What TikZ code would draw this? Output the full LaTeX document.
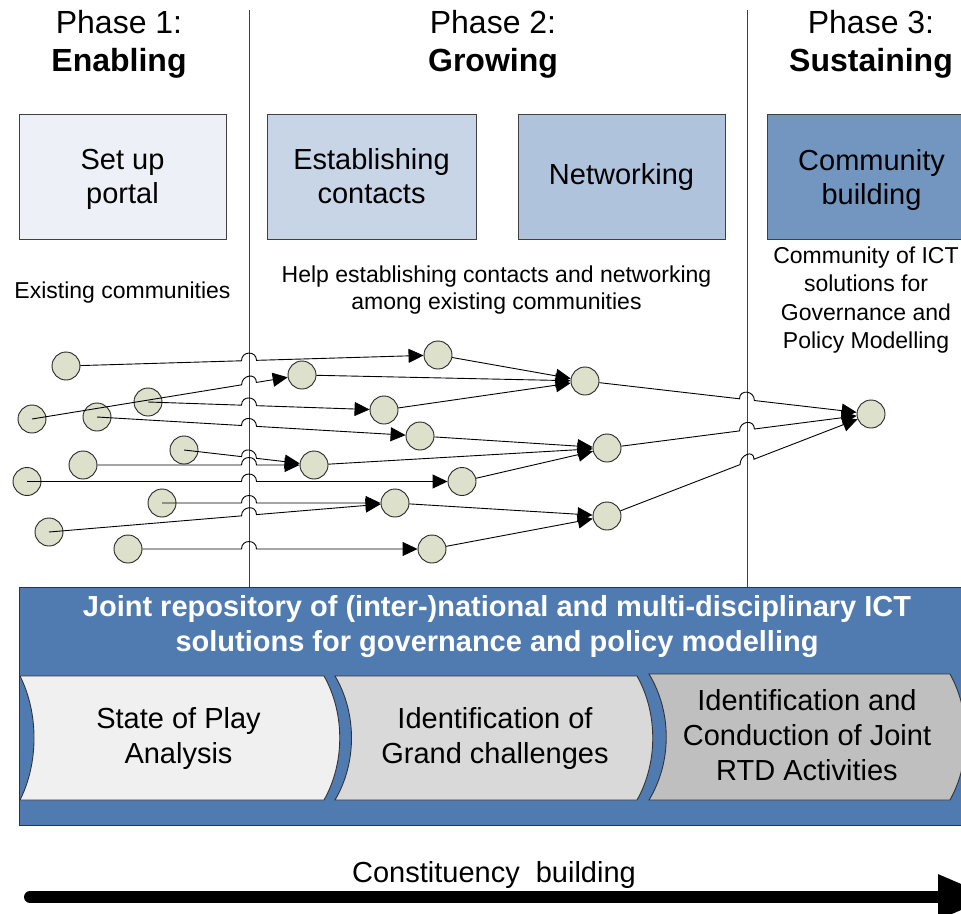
\documentclass[tikz,border=0pt]{standalone}
\usepackage{fontspec}
\setmainfont{Liberation Sans}
\usetikzlibrary{arrows.meta,calc}
\definecolor{setupfill}{RGB}{237,241,247}
\definecolor{estfill}{RGB}{200,213,230}
\definecolor{netfill}{RGB}{176,195,220}
\definecolor{comfill}{RGB}{115,150,193}
\definecolor{repofill}{RGB}{79,123,176}
\definecolor{chevA}{RGB}{240,240,240}
\definecolor{chevB}{RGB}{217,217,217}
\definecolor{chevC}{RGB}{191,191,191}
\definecolor{dotfill}{RGB}{221,224,203}
\definecolor{linegray}{RGB}{64,64,64}
% hop edge: #1 start spec, #2 source node, #3 target node, #4 x of vertical line
\newcommand{\hopedge}[4]{%
  \coordinate (hp) at (intersection cs: first line={(#2.center)--(#3.center)}, second line={(#4,0)--(#4,600)});
  \draw[edge] (#1) -- ($(hp)!7.5pt!(#2.center)$) .. controls +(0,-10) and +(0,-10) .. ($(hp)!7.5pt!(#3.center)$) -- (#3);
}
\begin{document}
\begin{tikzpicture}[x=1pt,y=-1pt,
  phasehead/.style={align=center, font=\fontsize{32}{38.4}\selectfont, inner sep=0pt},
  stagebox/.style={draw=linegray, line width=1pt, minimum width=207pt, minimum height=125pt, inner sep=0pt, align=center, font=\fontsize{29}{34}\selectfont},
  note/.style={align=center, font=\fontsize{23}{27}\selectfont, inner sep=0pt},
  vline/.style={draw=linegray, line width=1pt},
  dot/.style={circle, draw=black!85, fill=dotfill, minimum size=28pt, inner sep=0pt, line width=0.9pt},
  edge/.style={draw=black, line width=0.9pt, -{Triangle[length=15pt,width=14pt]}},
  chev/.style={draw=black!80, line width=0.9pt},
  chevtext/.style={align=center, font=\fontsize{29}{35}\selectfont, inner sep=0pt},
]
\useasboundingbox (0,0) rectangle (961,913);
\clip (0,0) rectangle (961,913);

% phase separators
\draw[vline] (249,10) -- (249,587);
\draw[vline] (747,10) -- (747,587);

% headers
\node[phasehead] (ph1) at (119,44.2) {Phase 1:\\\textbf{Enabling}};
\node[phasehead] (ph2) at (493,44.2) {Phase 2:\\\textbf{Growing}};
\node[phasehead] (ph3) at (871,44.2) {Phase 3:\\\textbf{Sustaining}};

% stage boxes
\node[stagebox, fill=setupfill] (setup) at (122.5,176.5) {Set up\\\smash{portal}};
\node[stagebox, fill=estfill, minimum width=209pt] (est) at (371.5,176.5) {Establishing\\contacts};
\node[stagebox, fill=netfill] (net) at (621.5,176.5) {Networking};
\node[stagebox, fill=comfill, minimum width=209pt] (com) at (871.5,176.5) {Community\\\smash{building}};

% notes
\node[note, anchor=base] (n1) at (122.5,298.3) {Existing communities};
\node[note] (n2) at (496.5,290.5) {Help establishing contacts and networking\\among existing communities};
\node[note, font=\fontsize{23}{28.3}\selectfont] (n3) at (866,300) {Community of ICT\\solutions for\\Governance and\\Policy Modelling};

% network nodes
\node[dot] (A1) at (66,366) {};
\node[dot] (A2) at (32,419) {};
\node[dot] (A3) at (148,402) {};
\node[dot] (A4) at (97,417) {};
\node[dot] (A5) at (184,450) {};
\node[dot] (A6) at (83,465) {};
\node[dot] (A7) at (27,481.5) {};
\node[dot] (A8) at (162,503) {};
\node[dot] (A9) at (49,532) {};
\node[dot] (A10) at (128,549) {};
\node[dot] (B1) at (438,355) {};
\node[dot] (B2) at (302,375) {};
\node[dot] (B3) at (384,410) {};
\node[dot] (B4) at (420,436) {};
\node[dot] (B5) at (314,465) {};
\node[dot] (B6) at (462,481.5) {};
\node[dot] (B7) at (395,503) {};
\node[dot] (B8) at (432,549) {};
\node[dot] (C1) at (585,381) {};
\node[dot] (C2) at (607,448) {};
\node[dot] (C3) at (607,516) {};
\node[dot] (D) at (871,414) {};

% phase 1 -> phase 2 (hop over separator)
\hopedge{A1}{A1}{B1}{249}
\hopedge{A2.center}{A2}{B2}{249}
\hopedge{A3.center}{A3}{B3}{249}
\hopedge{A4.center}{A4}{B4}{249}
\hopedge{A5.center}{A5}{B5}{249}
\hopedge{A6}{A6}{B5}{249}
\hopedge{A7.center}{A7}{B6}{249}
\hopedge{A8.center}{A8}{B7}{249}
\hopedge{A9.center}{A9}{B7}{249}
\hopedge{A10}{A10}{B8}{249}

% within phase 2
\draw[edge] (B1) -- (C1);
\draw[edge] (B2) -- (C1);
\draw[edge] (B3) -- (C1);
\draw[edge] (B4) -- (C2);
\draw[edge] (B5) -- (C2);
\draw[edge] (B6) -- (C2);
\draw[edge] (B7) -- (C3);
\draw[edge] (B8) -- (C3);

% phase 2 -> phase 3
\hopedge{C1}{C1}{D}{747}
\hopedge{C2}{C2}{D}{747}
\hopedge{C3}{C3}{D}{747}

% repository
\draw[draw=black!80, line width=1pt, fill=repofill] (19,587) rectangle (990,825);
\node[font=\bfseries\fontsize{29}{35}\selectfont, text=white, align=center, inner sep=0pt] (title) at (497,627)
  {Joint repository of (inter-)national and multi-disciplinary ICT\\solutions for governance and policy modelling};

% chevrons
\draw[chev, fill=chevA] (20,676) -- (324,676) .. controls (345,713) and (345,763) .. (324,800)
  -- (20,800) .. controls (38.7,763) and (38.7,713) .. (20,676) -- cycle;
\draw[chev, fill=chevB] (335,676) -- (637,676) .. controls (658,713) and (658,763) .. (637,800)
  -- (335,800) .. controls (357,763) and (357,713) .. (335,676) -- cycle;
\draw[chev, fill=chevC] (649,674) -- (950,674) .. controls (971,712) and (971,762) .. (950,800)
  -- (649,800) .. controls (672,762) and (672,712) .. (649,674) -- cycle;
\node[chevtext] (s1) at (178.5,738) {State of Play\\Analysis};
\node[chevtext] (s2) at (495,738) {Identification of\\Grand challenges};
\node[chevtext] (s3) at (807,735) {Identification and\\Conduction of Joint\\RTD Activities};

% constituency arrow
\node[font=\fontsize{29}{34}\selectfont, anchor=base, inner sep=0pt] (cons) at (494,882) {Constituency\ \ building};
\coordinate (cbL) at (30,897);
\coordinate (cbR) at (993,897);
\draw[line width=12pt, line cap=round, -{Triangle[length=55pt,width=42pt]}] (cbL) -- (cbR);
\end{tikzpicture}
\end{document}
